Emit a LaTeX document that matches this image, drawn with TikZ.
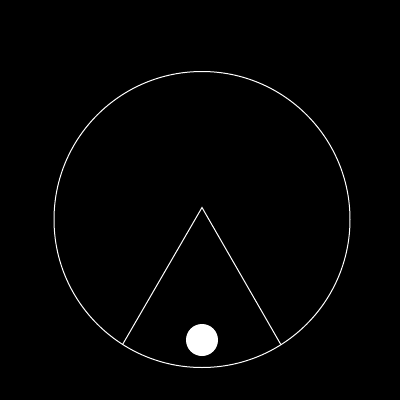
\documentclass[tikz,border=0pt]{standalone}
\usepackage{tikz}
\usetikzlibrary{calc}

\begin{document}
\begin{tikzpicture}[
  x=1pt, y=-1pt,
  rim/.style={draw=white, line width=1pt},
  ball/.style={fill=white}
]
  \fill[black] (0,0) rectangle (400,400);
  \useasboundingbox (0,0) rectangle (400,400);
  \coordinate (centre) at (202,219.5);
  \coordinate (apex) at (202,207.5);
  \coordinate (footL) at (122.7,344.3);
  \coordinate (footR) at (280.7,344.3);
  \coordinate (pebble) at (202,340);
  \draw[rim] (centre) circle[radius=148];
  \draw[rim] (footL) -- (apex) -- (footR);
  \fill[ball] (pebble) circle[radius=16];
\end{tikzpicture}
\end{document}
